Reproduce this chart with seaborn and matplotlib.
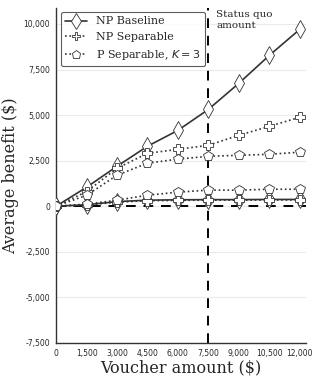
import numpy as np
import pandas as pd
import matplotlib
matplotlib.use("Agg")
import matplotlib.pyplot as plt
import seaborn as sns

voucher = [0, 1500, 3000, 4500, 6000, 7500, 9000, 10500, 12000]

# upper group
np_base_hi = [0, 1040, 2190, 3290, 4160, 5310, 6740, 8270, 9700]
np_sep_hi = [0, 800, 2080, 2900, 3120, 3340, 3890, 4380, 4880]
p_sep_hi = [0, 600, 1700, 2360, 2580, 2740, 2790, 2850, 2960]

# lower group
np_base_lo = [0, 80, 250, 330, 350, 360, 360, 370, 370]
np_sep_lo = [0, 60, 220, 300, 320, 330, 330, 340, 340]
p_sep_lo = [0, 110, 330, 600, 770, 880, 880, 930, 930]

series = [
    ("NP Baseline", np_base_hi, np_base_lo, "-", "d"),
    ("NP Separable", np_sep_hi, np_sep_lo, ":", "P"),
    ("P Separable, $K = 3$", p_sep_hi, p_sep_lo, ":", "p"),
]

sns.set_style("whitegrid")
plt.rcParams["font.family"] = ["DejaVu Sans"]

fig, ax = plt.subplots(figsize=(3.12, 3.78), dpi=100)
line_col = "#333333"

for name, hi, lo, ls, mk in series:
    for vals, lab in [(hi, name), (lo, None)]:
        df = pd.DataFrame({"x": voucher, "y": vals})
        sns.lineplot(data=df, x="x", y="y", ax=ax, color=line_col, linestyle=ls,
                     linewidth=1.2, marker=mk, markersize=9 if mk == "d" else 7,
                     markerfacecolor="white", markeredgecolor=line_col,
                     markeredgewidth=0.6, label=lab, zorder=3)

ax.axhline(0, color="black", linestyle=(0, (5, 4)), linewidth=1.4, zorder=2)
ax.axvline(7500, color="black", linestyle=(0, (5, 4)), linewidth=1.4, zorder=2)
ax.text(7900, 10750, "Status quo\namount", family="DejaVu Serif", fontsize=7.5,
        va="top", ha="left")

ax.set_xlim(0, 12300)
ax.set_ylim(-7500, 10900)
ax.set_xticks(voucher)
ax.set_xticklabels([f"{v:,}" for v in voucher], fontsize=5.5)
yt = [-7500, -5000, -2500, 0, 2500, 5000, 7500, 10000]
ax.set_yticks(yt)
ax.set_yticklabels([f"{v:,}" for v in yt], fontsize=5.5)
ax.grid(axis="x", visible=False)
ax.grid(axis="y", color="#ebebeb", linewidth=0.8)
for s in ["top", "right"]:
    ax.spines[s].set_visible(False)
for s in ["left", "bottom"]:
    ax.spines[s].set_color("#333333")
    ax.spines[s].set_linewidth(1.0)
ax.tick_params(axis="both", length=2.5, width=0.8, color="#333333", pad=2)

ax.set_xlabel("Voucher amount ($)", family="DejaVu Serif", fontsize=11.5, labelpad=1)
ax.set_ylabel("Average benefit ($)", family="DejaVu Serif", fontsize=11.5, labelpad=3)

leg = ax.legend(loc="upper left", prop={"family": "DejaVu Serif", "size": 8},
                frameon=True, edgecolor="#333333", fancybox=True,
                borderaxespad=0.4, handlelength=2.0, markerscale=0.9)
leg.get_frame().set_linewidth(0.8)

plt.subplots_adjust(left=0.18, right=0.98, top=0.98, bottom=0.093)
plt.savefig("out.png", dpi=100)
